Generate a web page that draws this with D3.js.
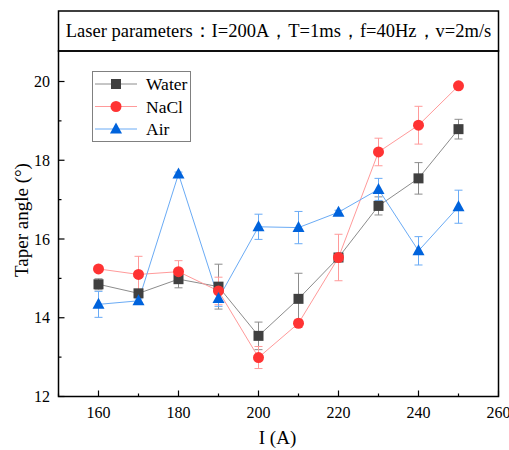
<!DOCTYPE html>
<html>
<head>
<meta charset="utf-8">
<script src="https://cdn.jsdelivr.net/npm/d3@7"></script>
<style>
  body { margin: 0; background: #fff; }
  svg text { font-family: "Liberation Serif", "Times New Roman", serif; fill: #000; }
</style>
</head>
<body>
<script>
// current values (A)
var currents = [160, 170, 180, 190, 200, 210, 220, 230, 240, 250];

// taper angle, mean and error
var water    = [14.85, 14.62, 14.98, 14.79, 13.54, 14.48, 15.53, 16.84, 17.54, 18.79];
var waterErr = [0.14, 0.05, 0.22, 0.57, 0.35, 0.65, 0.1, 0.23, 0.4, 0.25];
var nacl     = [15.24, 15.10, 15.17, 14.68, 12.99, 13.86, 15.53, 18.21, 18.89, 19.89];
var naclErr  = [0.05, 0.46, 0.28, 0.35, 0.28, 0.1, 0.59, 0.35, 0.48, 0.05];
var air      = [14.34, 14.43, 17.65, 14.49, 16.31, 16.29, 16.68, 17.26, 15.70, 16.82];
var airErr   = [0.33, 0.05, 0.05, 0.2, 0.32, 0.41, 0.05, 0.28, 0.36, 0.42];

var xTicks = [160, 180, 200, 220, 240, 260];
var yTicks = [12, 14, 16, 18, 20];
var title = 'Laser parameters：I=200A，T=1ms，f=40Hz，v=2m/s';

var series = [
  {name: 'Water', vals: water, err: waterErr, marker: '#404040', line: '#8c8c8c', shape: 'square'},
  {name: 'NaCl', vals: nacl, err: naclErr, marker: '#ff3333', line: '#ff9a9a', shape: 'circle'},
  {name: 'Air', vals: air, err: airErr, marker: '#0063dc', line: '#6aabf5', shape: 'triangle'}
];

var width = 509, height = 450;
var pLeft = 58.5, pRight = 498.5, pTop = 51, pBottom = 396.5;

var svg = d3.select('body').append('svg')
  .attr('width', width)
  .attr('height', height);

var x = d3.scaleLinear().domain([150, 260]).range([pLeft, pRight]);
var y = d3.scaleLinear().domain([12, 20]).range([pBottom, 81.5]);

// title box
svg.append('rect')
  .attr('x', pLeft).attr('y', 11)
  .attr('width', pRight - pLeft).attr('height', pTop - 11)
  .attr('fill', 'none').attr('stroke', '#000').attr('stroke-width', 1.5);
svg.append('text')
  .attr('x', (pLeft + pRight) / 2).attr('y', 37)
  .attr('text-anchor', 'middle')
  .attr('font-size', 18.5)
  .text(title);

var line = d3.line()
  .x(function(d, i){ return x(currents[i]); })
  .y(function(d){ return y(d); });

function drawMarker(g, s, cx, cy) {
  if (s.shape === 'square') {
    g.append('rect').attr('x', cx - 5).attr('y', cy - 5)
      .attr('width', 10).attr('height', 10).attr('fill', s.marker);
  } else if (s.shape === 'circle') {
    g.append('circle').attr('cx', cx).attr('cy', cy).attr('r', 5.5).attr('fill', s.marker);
  } else {
    g.append('path')
      .attr('d', 'M' + cx + ',' + (cy - 6.5) + 'L' + (cx + 6) + ',' + (cy + 4.5) + 'L' + (cx - 6) + ',' + (cy + 4.5) + 'Z')
      .attr('fill', s.marker);
  }
}

var plot = svg.append('g');

// lines and error bars first
series.forEach(function(s){
  var g = plot.append('g');
  s.vals.forEach(function(v, i){
    var cx = x(currents[i]);
    var y1 = y(v + s.err[i]), y2 = y(v - s.err[i]);
    g.append('line').attr('x1', cx).attr('x2', cx).attr('y1', y1).attr('y2', y2)
      .attr('stroke', s.line).attr('stroke-width', 1);
    [y1, y2].forEach(function(yy){
      g.append('line').attr('x1', cx - 4).attr('x2', cx + 4).attr('y1', yy).attr('y2', yy)
        .attr('stroke', s.line).attr('stroke-width', 1);
    });
  });
  g.append('path').datum(s.vals)
    .attr('d', line)
    .attr('fill', 'none')
    .attr('stroke', s.line)
    .attr('stroke-width', 1);
});

series.forEach(function(s){
  var g = plot.append('g');
  s.vals.forEach(function(v, i){
    drawMarker(g, s, x(currents[i]), y(v));
  });
});

// frame
svg.append('rect')
  .attr('x', pLeft).attr('y', pTop)
  .attr('width', pRight - pLeft).attr('height', pBottom - pTop)
  .attr('fill', 'none').attr('stroke', '#000').attr('stroke-width', 1.5);

// x ticks
var xMinor = d3.range(150, 261, 10);
svg.selectAll('.xt').data(xMinor).enter().append('line')
  .attr('x1', function(d){ return x(d); })
  .attr('x2', function(d){ return x(d); })
  .attr('y1', pBottom)
  .attr('y2', function(d){ return d % 20 === 0 ? pBottom - 6 : pBottom - 3; })
  .attr('stroke', '#000').attr('stroke-width', 1.2);
svg.selectAll('.xl').data(xTicks).enter().append('text')
  .attr('x', function(d){ return x(d); })
  .attr('y', 418)
  .attr('text-anchor', 'middle')
  .attr('font-size', 16)
  .text(function(d){ return d; });

// y ticks
var yMinor = d3.range(12, 20.5, 1);
svg.selectAll('.yt').data(yMinor).enter().append('line')
  .attr('y1', function(d){ return y(d); })
  .attr('y2', function(d){ return y(d); })
  .attr('x1', pLeft)
  .attr('x2', function(d){ return d % 2 === 0 ? pLeft + 6 : pLeft + 3; })
  .attr('stroke', '#000').attr('stroke-width', 1.2);
svg.selectAll('.yl').data(yTicks).enter().append('text')
  .attr('x', 50)
  .attr('y', function(d){ return y(d) + 5.5; })
  .attr('text-anchor', 'end')
  .attr('font-size', 16)
  .text(function(d){ return d; });

// axis titles
svg.append('text')
  .attr('x', (pLeft + pRight) / 2 - 1).attr('y', 444)
  .attr('text-anchor', 'middle')
  .attr('font-size', 19)
  .text('I (A)');
svg.append('text')
  .attr('transform', 'translate(28,' + 220 + ') rotate(-90)')
  .attr('text-anchor', 'middle')
  .attr('font-size', 19)
  .text('Taper angle (°)');

// legend
var lg = svg.append('g');
lg.append('rect')
  .attr('x', 92.5).attr('y', 71.5).attr('width', 98).attr('height', 70)
  .attr('fill', '#fff').attr('stroke', '#808080').attr('stroke-width', 1);
series.forEach(function(s, i){
  var ly = 84 + i * 22.5;
  lg.append('line').attr('x1', 95).attr('x2', 137).attr('y1', ly).attr('y2', ly)
    .attr('stroke', s.line).attr('stroke-width', 1);
  drawMarker(lg, s, 116, ly);
  lg.append('text').attr('x', 146).attr('y', ly + 6)
    .attr('font-size', 17.5)
    .text(s.name);
});
</script>
</body>
</html>
